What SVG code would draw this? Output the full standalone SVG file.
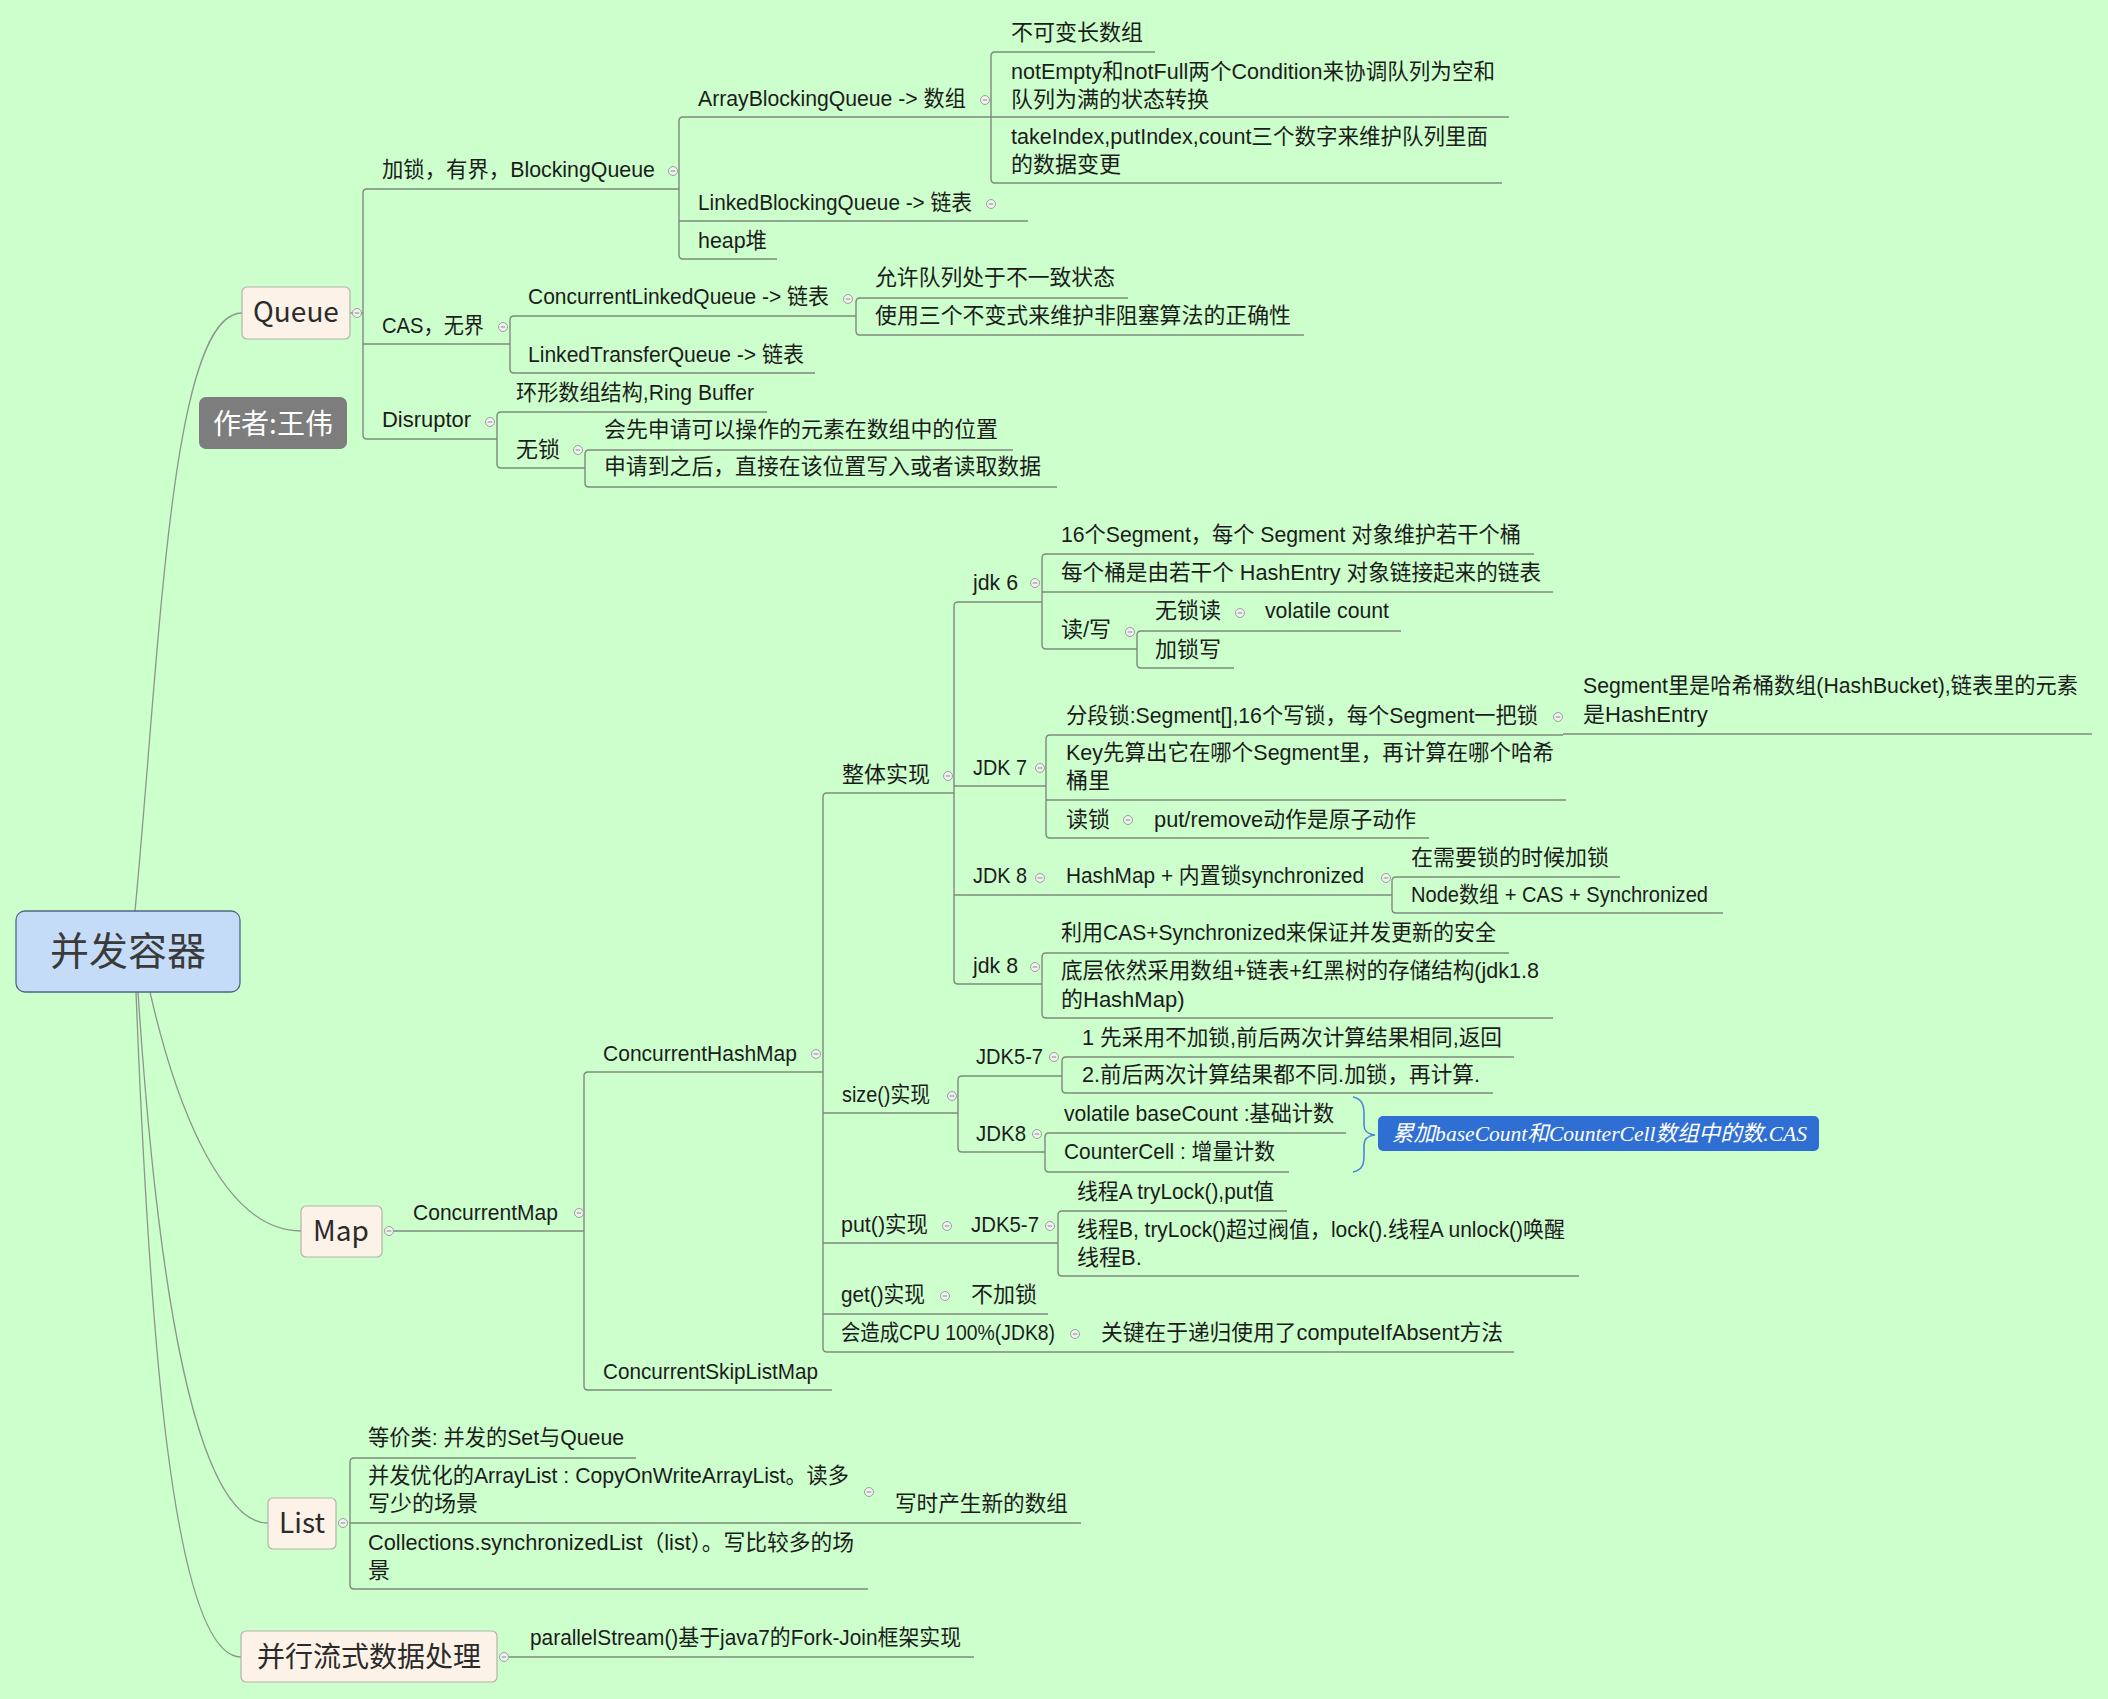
<svg xmlns="http://www.w3.org/2000/svg" width="2108" height="1699" viewBox="0 0 2108 1699">
  <defs>
    <style>
      .t { font-family: 'Liberation Sans', 'Noto Sans CJK SC', sans-serif; font-size: 22px; fill: #1c1c1c; }
      .nt { font-family: 'Noto Sans CJK SC', 'Noto Sans', sans-serif; font-size: 28px; fill: #2a2a2a; text-anchor: middle; }
      .ul { stroke: #7c8a7c; stroke-width: 1.4; fill: none; }
      .br { stroke: #7c8a7c; stroke-width: 1.4; fill: none; }
      .main { stroke: #8a988a; stroke-width: 1.3; fill: none; }
      .box { fill: #fdf2e8; stroke: #b3b3a6; stroke-width: 1.2; }
    </style>
    <g id="mk">
      <circle r="4.5" fill="#eef1ee" stroke="#9aa09a" stroke-width="1"/>
      <path d="M-2.2,0H2.2" stroke="#8a8a8a" stroke-width="1"/>
    </g>
  </defs>

  <rect width="2108" height="1699" fill="#ccffcc"/>

  <!-- connectors: main curves and child brackets -->
  <g id="connectors">
    <path class="main" d="M135,911 C160,650 170,313 242,313"/>
    <path class="main" d="M150,992 C170,1080 215,1231 301,1231"/>
    <path class="main" d="M138,992 C155,1250 190,1523 268,1523"/>
    <path class="main" d="M136,992 C148,1300 170,1657 241,1657"/>

    <!-- Queue -->
    <path class="br" d="M367,189 Q363,189 363,193 V435 Q363,439 367,439"/>
    <path class="br" d="M350,313 H363"/>
    <path class="br" d="M683,117 Q679,117 679,121 V255 Q679,259 683,259"/>
    <path class="br" d="M995,52 Q991,52 991,56 V179 Q991,183 995,183"/>
    <path class="br" d="M514,316 Q510,316 510,320 V369 Q510,373 514,373"/>
    <path class="br" d="M860,298 Q856,298 856,302 V331 Q856,335 860,335"/>
    <path class="br" d="M501,412 Q497,412 497,416 V464 Q497,468 501,468"/>
    <path class="br" d="M589,450 Q585,450 585,454 V483 Q585,487 589,487"/>

    <!-- Map -->
    <path class="br" d="M588,1072 Q584,1072 584,1076 V1386 Q584,1390 588,1390"/>
    <path class="br" d="M827,793 Q823,793 823,797 V1348 Q823,1352 827,1352"/>
    <path class="br" d="M958,602 Q954,602 954,606 V980 Q954,984 958,984"/>
    <path class="br" d="M1046,554 Q1042,554 1042,558 V645 Q1042,649 1046,649"/>
    <path class="br" d="M1141,631 Q1137,631 1137,635 V664 Q1137,668 1141,668"/>
    <path class="br" d="M1050,735 Q1046,735 1046,739 V834 Q1046,838 1050,838"/>
    <path class="br" d="M1396,877 Q1392,877 1392,881 V909 Q1392,913 1396,913"/>
    <path class="br" d="M1046,953 Q1042,953 1042,957 V1014 Q1042,1018 1046,1018"/>
    <path class="br" d="M962,1076 Q958,1076 958,1080 V1148 Q958,1152 962,1152"/>
    <path class="br" d="M1066,1057 Q1062,1057 1062,1061 V1089 Q1062,1093 1066,1093"/>
    <path class="br" d="M1049,1133 Q1045,1133 1045,1137 V1168 Q1045,1172 1049,1172"/>
    <path class="br" d="M1062,1211 Q1058,1211 1058,1215 V1272 Q1058,1276 1062,1276"/>

    <!-- List -->
    <path class="br" d="M354,1458 Q350,1458 350,1462 V1585 Q350,1589 354,1589"/>
  </g>

  <!-- root -->
  <g id="root">
    <rect x="16" y="911" width="224" height="81" rx="9" fill="#c5dcf9" stroke="#4f6785" stroke-width="1.3"/>
    <text x="128" y="965" text-anchor="middle" style="font-family:'Noto Sans CJK SC','Noto Sans',sans-serif;font-size:39px;fill:#3a3a3a">并发容器</text>
  </g>

  <!-- author label -->
  <g id="author">
    <rect x="199" y="397" width="148" height="52" rx="7" fill="#7d7d7d"/>
    <text class="nt" x="273" y="434" style="fill:#ffffff">作者:王伟</text>
  </g>

  <!-- Queue branch -->
  <g id="queue">
    <rect class="box" x="242" y="287" width="108" height="52" rx="5"/>
    <text class="nt" x="296" y="322">Queue</text>
    <use href="#mk" x="357" y="313"/>
  </g>
  <g id="blocking-queue">
    <path class="ul" d="M367,189 H679"/>
    <text class="t" x="382" y="177" textLength="273" lengthAdjust="spacingAndGlyphs">加锁，有界，BlockingQueue</text>
    <use href="#mk" x="673" y="171"/>
  </g>
  <g id="array-blocking-queue">
    <path class="ul" d="M683,117 H991"/>
    <text class="t" x="698" y="106" textLength="268" lengthAdjust="spacingAndGlyphs">ArrayBlockingQueue -&gt; 数组</text>
    <use href="#mk" x="985" y="100"/>
  </g>
  <g id="abq-fixed">
    <path class="ul" d="M995,52 H1155"/>
    <text class="t" x="1011" y="40">不可变长数组</text>
  </g>
  <g id="abq-condition">
    <path class="ul" d="M991,117 H1509"/>
    <text class="t" x="1011" y="79" textLength="484" lengthAdjust="spacingAndGlyphs">notEmpty和notFull两个Condition来协调队列为空和</text>
    <text class="t" x="1011" y="107">队列为满的状态转换</text>
  </g>
  <g id="abq-index">
    <path class="ul" d="M995,183 H1502"/>
    <text class="t" x="1011" y="144" textLength="477" lengthAdjust="spacingAndGlyphs">takeIndex,putIndex,count三个数字来维护队列里面</text>
    <text class="t" x="1011" y="172">的数据变更</text>
  </g>
  <g id="linked-blocking-queue">
    <path class="ul" d="M679,221 H1028"/>
    <text class="t" x="698" y="210" textLength="274" lengthAdjust="spacingAndGlyphs">LinkedBlockingQueue -&gt; 链表</text>
    <use href="#mk" x="991" y="204"/>
  </g>
  <g id="heap">
    <path class="ul" d="M683,259 H777"/>
    <text class="t" x="698" y="248" textLength="69" lengthAdjust="spacingAndGlyphs">heap堆</text>
  </g>
  <g id="cas">
    <path class="ul" d="M363,344 H510"/>
    <text class="t" x="382" y="333" textLength="102" lengthAdjust="spacingAndGlyphs">CAS，无界</text>
    <use href="#mk" x="503" y="327"/>
  </g>
  <g id="concurrent-linked-queue">
    <path class="ul" d="M514,316 H856"/>
    <text class="t" x="528" y="304" textLength="301" lengthAdjust="spacingAndGlyphs">ConcurrentLinkedQueue -&gt; 链表</text>
    <use href="#mk" x="848" y="299"/>
  </g>
  <g id="clq-inconsistent">
    <path class="ul" d="M860,298 H1128"/>
    <text class="t" x="875" y="285" textLength="240" lengthAdjust="spacingAndGlyphs">允许队列处于不一致状态</text>
  </g>
  <g id="clq-invariant">
    <path class="ul" d="M860,335 H1304"/>
    <text class="t" x="875" y="323" textLength="416" lengthAdjust="spacingAndGlyphs">使用三个不变式来维护非阻塞算法的正确性</text>
  </g>
  <g id="linked-transfer-queue">
    <path class="ul" d="M514,373 H815"/>
    <text class="t" x="528" y="362" textLength="276" lengthAdjust="spacingAndGlyphs">LinkedTransferQueue -&gt; 链表</text>
  </g>
  <g id="disruptor">
    <path class="ul" d="M367,439 H497"/>
    <text class="t" x="382" y="427" textLength="89" lengthAdjust="spacingAndGlyphs">Disruptor</text>
    <use href="#mk" x="490" y="422"/>
  </g>
  <g id="ring-buffer">
    <path class="ul" d="M501,412 H767"/>
    <text class="t" x="516" y="400" textLength="238" lengthAdjust="spacingAndGlyphs">环形数组结构,Ring Buffer</text>
  </g>
  <g id="lock-free">
    <path class="ul" d="M501,468 H585"/>
    <text class="t" x="516" y="457">无锁</text>
    <use href="#mk" x="578" y="450"/>
  </g>
  <g id="lf-claim">
    <path class="ul" d="M589,450 H1013"/>
    <text class="t" x="604" y="437" textLength="394" lengthAdjust="spacingAndGlyphs">会先申请可以操作的元素在数组中的位置</text>
  </g>
  <g id="lf-write">
    <path class="ul" d="M589,487 H1057"/>
    <text class="t" x="604" y="474" textLength="437" lengthAdjust="spacingAndGlyphs">申请到之后，直接在该位置写入或者读取数据</text>
  </g>

  <!-- Map branch -->
  <g id="map">
    <rect class="box" x="301" y="1206" width="81" height="51" rx="5"/>
    <text class="nt" x="341" y="1241">Map</text>
    <use href="#mk" x="389" y="1231"/>
  </g>
  <g id="concurrent-map">
    <path class="ul" d="M394,1231 H584"/>
    <text class="t" x="413" y="1220" textLength="145" lengthAdjust="spacingAndGlyphs">ConcurrentMap</text>
    <use href="#mk" x="579" y="1213"/>
  </g>
  <g id="concurrent-hash-map">
    <path class="ul" d="M588,1072 H823"/>
    <text class="t" x="603" y="1061" textLength="194" lengthAdjust="spacingAndGlyphs">ConcurrentHashMap</text>
    <use href="#mk" x="816" y="1054"/>
  </g>
  <g id="concurrent-skip-list-map">
    <path class="ul" d="M588,1390 H832"/>
    <text class="t" x="603" y="1379" textLength="215" lengthAdjust="spacingAndGlyphs">ConcurrentSkipListMap</text>
  </g>

  <g id="overall">
    <path class="ul" d="M827,793 H954"/>
    <text class="t" x="842" y="782">整体实现</text>
    <use href="#mk" x="948" y="776"/>
  </g>
  <g id="jdk6">
    <path class="ul" d="M958,602 H1042"/>
    <text class="t" x="973" y="590" textLength="45" lengthAdjust="spacingAndGlyphs">jdk 6</text>
    <use href="#mk" x="1035" y="583"/>
  </g>
  <g id="jdk6-segments">
    <path class="ul" d="M1046,554 H1534"/>
    <text class="t" x="1061" y="542" textLength="460" lengthAdjust="spacingAndGlyphs">16个Segment，每个 Segment 对象维护若干个桶</text>
  </g>
  <g id="jdk6-buckets">
    <path class="ul" d="M1042,592 H1553"/>
    <text class="t" x="1061" y="580" textLength="480" lengthAdjust="spacingAndGlyphs">每个桶是由若干个 HashEntry 对象链接起来的链表</text>
  </g>
  <g id="jdk6-rw">
    <path class="ul" d="M1046,649 H1137"/>
    <text class="t" x="1061" y="637">读/写</text>
    <use href="#mk" x="1130" y="632"/>
  </g>
  <g id="jdk6-read">
    <path class="ul" d="M1141,631 H1401"/>
    <text class="t" x="1155" y="618">无锁读</text>
    <use href="#mk" x="1240" y="613"/>
    <text class="t" x="1265" y="618" textLength="124" lengthAdjust="spacingAndGlyphs">volatile count</text>
  </g>
  <g id="jdk6-write">
    <path class="ul" d="M1141,668 H1234"/>
    <text class="t" x="1155" y="657">加锁写</text>
  </g>

  <g id="jdk7">
    <path class="ul" d="M954,786 H1046"/>
    <text class="t" x="973" y="775" textLength="54" lengthAdjust="spacingAndGlyphs">JDK 7</text>
    <use href="#mk" x="1040" y="768"/>
  </g>
  <g id="jdk7-segment-lock">
    <path class="ul" d="M1050,735 H1563"/>
    <text class="t" x="1066" y="723" textLength="472" lengthAdjust="spacingAndGlyphs">分段锁:Segment[],16个写锁，每个Segment一把锁</text>
    <use href="#mk" x="1558" y="717"/>
  </g>
  <g id="jdk7-segment-bucket">
    <path class="ul" d="M1563,734 H2092"/>
    <text class="t" x="1583" y="693" textLength="495" lengthAdjust="spacingAndGlyphs">Segment里是哈希桶数组(HashBucket),链表里的元素</text>
    <text class="t" x="1583" y="722">是HashEntry</text>
  </g>
  <g id="jdk7-key">
    <path class="ul" d="M1046,800 H1566"/>
    <text class="t" x="1066" y="760" textLength="488" lengthAdjust="spacingAndGlyphs">Key先算出它在哪个Segment里，再计算在哪个哈希</text>
    <text class="t" x="1066" y="788">桶里</text>
  </g>
  <g id="jdk7-read-lock">
    <path class="ul" d="M1050,838 H1429"/>
    <text class="t" x="1066" y="827">读锁</text>
    <use href="#mk" x="1128" y="820"/>
    <text class="t" x="1154" y="827" textLength="262" lengthAdjust="spacingAndGlyphs">put/remove动作是原子动作</text>
  </g>

  <g id="jdk8-a">
    <path class="ul" d="M954,895 H1392"/>
    <text class="t" x="973" y="883" textLength="54" lengthAdjust="spacingAndGlyphs">JDK 8</text>
    <use href="#mk" x="1040" y="878"/>
    <text class="t" x="1066" y="883" textLength="298" lengthAdjust="spacingAndGlyphs">HashMap + 内置锁synchronized</text>
    <use href="#mk" x="1386" y="878"/>
  </g>
  <g id="jdk8-a-lock">
    <path class="ul" d="M1396,877 H1620"/>
    <text class="t" x="1411" y="865">在需要锁的时候加锁</text>
  </g>
  <g id="jdk8-a-node">
    <path class="ul" d="M1396,913 H1723"/>
    <text class="t" x="1411" y="902" textLength="297" lengthAdjust="spacingAndGlyphs">Node数组 + CAS + Synchronized</text>
  </g>

  <g id="jdk8-b">
    <path class="ul" d="M958,984 H1042"/>
    <text class="t" x="973" y="973" textLength="45" lengthAdjust="spacingAndGlyphs">jdk 8</text>
    <use href="#mk" x="1035" y="967"/>
  </g>
  <g id="jdk8-b-cas">
    <path class="ul" d="M1046,953 H1509"/>
    <text class="t" x="1061" y="940" textLength="435" lengthAdjust="spacingAndGlyphs">利用CAS+Synchronized来保证并发更新的安全</text>
  </g>
  <g id="jdk8-b-structure">
    <path class="ul" d="M1046,1018 H1553"/>
    <text class="t" x="1061" y="978" textLength="478" lengthAdjust="spacingAndGlyphs">底层依然采用数组+链表+红黑树的存储结构(jdk1.8</text>
    <text class="t" x="1061" y="1007">的HashMap)</text>
  </g>

  <g id="size">
    <path class="ul" d="M823,1113 H958"/>
    <text class="t" x="842" y="1102" textLength="88" lengthAdjust="spacingAndGlyphs">size()实现</text>
    <use href="#mk" x="952" y="1096"/>
  </g>
  <g id="size-jdk57">
    <path class="ul" d="M962,1076 H1062"/>
    <text class="t" x="976" y="1064" textLength="67" lengthAdjust="spacingAndGlyphs">JDK5-7</text>
    <use href="#mk" x="1054" y="1057"/>
  </g>
  <g id="size-jdk57-first">
    <path class="ul" d="M1066,1057 H1514"/>
    <text class="t" x="1082" y="1045" textLength="420" lengthAdjust="spacingAndGlyphs">1 先采用不加锁,前后两次计算结果相同,返回</text>
  </g>
  <g id="size-jdk57-second">
    <path class="ul" d="M1066,1093 H1493"/>
    <text class="t" x="1082" y="1082" textLength="398" lengthAdjust="spacingAndGlyphs">2.前后两次计算结果都不同.加锁，再计算.</text>
  </g>
  <g id="size-jdk8">
    <path class="ul" d="M962,1152 H1045"/>
    <text class="t" x="976" y="1141" textLength="50" lengthAdjust="spacingAndGlyphs">JDK8</text>
    <use href="#mk" x="1037" y="1134"/>
  </g>
  <g id="size-base-count">
    <path class="ul" d="M1049,1133 H1346"/>
    <text class="t" x="1064" y="1121" textLength="270" lengthAdjust="spacingAndGlyphs">volatile baseCount :基础计数</text>
  </g>
  <g id="size-counter-cell">
    <path class="ul" d="M1049,1172 H1289"/>
    <text class="t" x="1064" y="1159" textLength="211" lengthAdjust="spacingAndGlyphs">CounterCell : 增量计数</text>
  </g>
  <g id="size-summary">
    <path d="M1353,1097 C1362,1099 1364,1105 1364,1114 L1364,1125 C1364,1131 1367,1134 1375,1135 C1367,1136 1364,1139 1364,1145 L1364,1156 C1364,1165 1362,1170 1353,1172" fill="none" stroke="#4d86d6" stroke-width="1.6"/>
    <rect x="1378" y="1116" width="441" height="35" rx="5" fill="#2f6fd3"/>
    <text x="1392" y="1141" textLength="415" lengthAdjust="spacingAndGlyphs" style="font-family:'Liberation Serif','Noto Sans CJK SC',serif;font-size:22px;font-style:italic;fill:#ffffff">累加baseCount和CounterCell数组中的数.CAS</text>
  </g>

  <g id="put">
    <path class="ul" d="M823,1243 H1058"/>
    <text class="t" x="841" y="1232" textLength="87" lengthAdjust="spacingAndGlyphs">put()实现</text>
    <use href="#mk" x="947" y="1226"/>
    <text class="t" x="971" y="1232" textLength="68" lengthAdjust="spacingAndGlyphs">JDK5-7</text>
    <use href="#mk" x="1050" y="1226"/>
  </g>
  <g id="put-thread-a">
    <path class="ul" d="M1062,1211 H1287"/>
    <text class="t" x="1077" y="1199" textLength="197" lengthAdjust="spacingAndGlyphs">线程A tryLock(),put值</text>
  </g>
  <g id="put-thread-b">
    <path class="ul" d="M1062,1276 H1579"/>
    <text class="t" x="1077" y="1237" textLength="488" lengthAdjust="spacingAndGlyphs">线程B, tryLock()超过阀值，lock().线程A unlock()唤醒</text>
    <text class="t" x="1077" y="1265">线程B.</text>
  </g>

  <g id="get">
    <path class="ul" d="M823,1314 H1048"/>
    <text class="t" x="841" y="1302" textLength="84" lengthAdjust="spacingAndGlyphs">get()实现</text>
    <use href="#mk" x="945" y="1296"/>
    <text class="t" x="971" y="1302">不加锁</text>
  </g>
  <g id="cpu">
    <path class="ul" d="M827,1352 H1514"/>
    <text class="t" x="841" y="1340" textLength="214" lengthAdjust="spacingAndGlyphs">会造成CPU 100%(JDK8)</text>
    <use href="#mk" x="1075" y="1334"/>
    <text class="t" x="1101" y="1340" textLength="402" lengthAdjust="spacingAndGlyphs">关键在于递归使用了computeIfAbsent方法</text>
  </g>

  <!-- List branch -->
  <g id="list">
    <rect class="box" x="268" y="1498" width="68" height="51" rx="5"/>
    <text class="nt" x="302" y="1533">List</text>
    <use href="#mk" x="343" y="1523"/>
  </g>
  <g id="list-equivalent">
    <path class="ul" d="M354,1458 H636"/>
    <text class="t" x="368" y="1445" textLength="256" lengthAdjust="spacingAndGlyphs">等价类: 并发的Set与Queue</text>
  </g>
  <g id="list-cow">
    <path class="ul" d="M350,1523 H1081"/>
    <text class="t" x="368" y="1483" textLength="481" lengthAdjust="spacingAndGlyphs">并发优化的ArrayList : CopyOnWriteArrayList。读多</text>
    <text class="t" x="368" y="1511">写少的场景</text>
    <use href="#mk" x="869" y="1492"/>
    <text class="t" x="895" y="1511" textLength="173" lengthAdjust="spacingAndGlyphs">写时产生新的数组</text>
  </g>
  <g id="list-synchronized">
    <path class="ul" d="M354,1589 H868"/>
    <text class="t" x="368" y="1550" textLength="486" lengthAdjust="spacingAndGlyphs">Collections.synchronizedList（list）。写比较多的场</text>
    <text class="t" x="368" y="1578">景</text>
  </g>

  <!-- parallel stream branch -->
  <g id="parallel">
    <rect class="box" x="241" y="1631" width="256" height="51" rx="5"/>
    <text class="nt" x="369" y="1667">并行流式数据处理</text>
    <use href="#mk" x="504" y="1657"/>
  </g>
  <g id="parallel-stream">
    <path class="ul" d="M509,1657 H974"/>
    <text class="t" x="530" y="1645" textLength="431" lengthAdjust="spacingAndGlyphs">parallelStream()基于java7的Fork-Join框架实现</text>
  </g>
</svg>
